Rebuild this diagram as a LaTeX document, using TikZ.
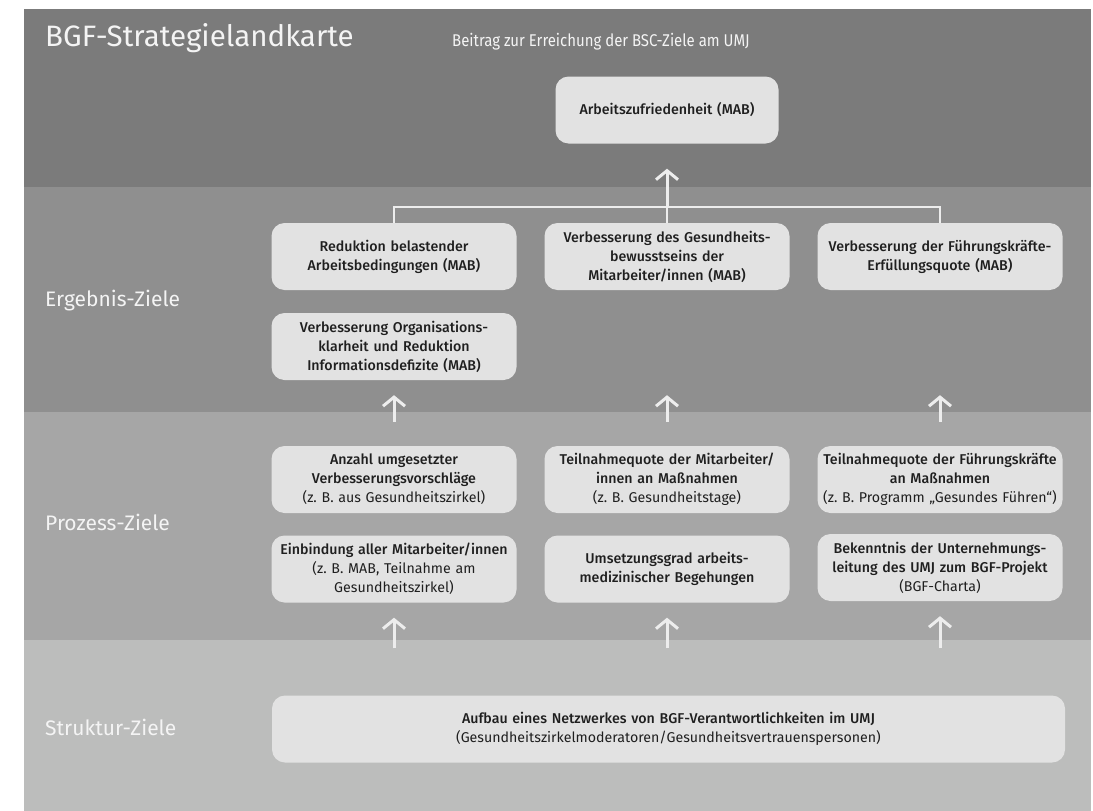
\documentclass[tikz,border=0pt]{standalone}
\usepackage{fontspec}
\setmainfont{Fira Sans}
\newfontfamily\medfont{Fira Sans Medium}
\newfontfamily\narrowfont[FakeStretch=0.88]{Fira Sans}
\usetikzlibrary{arrows.meta}

\definecolor{bandA}{HTML}{7B7B7B}
\definecolor{bandB}{HTML}{8F8F8F}
\definecolor{bandC}{HTML}{A6A6A6}
\definecolor{bandD}{HTML}{BCBDBC}
\definecolor{boxfill}{HTML}{E2E2E2}
\definecolor{linkcol}{HTML}{EDEDED}
\definecolor{labelcol}{HTML}{F4F4F4}

\newcommand\hint[1]{{\rmfamily #1}}
\frenchspacing

\tikzset{
  goal/.style={fill=boxfill, rounded corners=13pt, text width=250pt, align=center,
    inner xsep=-2.5pt, inner ysep=0pt, minimum height=67pt, text=black!88,
    font=\medfont\fontsize{14.2}{19}\selectfont},
  level/.style={anchor=base west, text=labelcol, inner sep=0pt,
    font=\fontsize{21}{24}\selectfont},
  link/.style={draw=linkcol, line width=2.5pt},
  uparr/.style={draw=linkcol, line width=3pt, -{Straight Barb[length=9pt,width=22pt]}}
}

\begin{document}
\begin{tikzpicture}[x=1pt,y=-1pt]
\useasboundingbox (0,0) rectangle (1093,811);

% bands
\fill[bandA] (24,9) rectangle (1091,187);
\fill[bandB] (24,187) rectangle (1091,412);
\fill[bandC] (24,412) rectangle (1091,640);
\fill[bandD] (24,640) rectangle (1091,811);

\node[anchor=base west, text=labelcol, inner sep=0pt, font=\fontsize{29.5}{32}\selectfont] (title) at (45,46) {BGF-Strategielandkarte};
\node[anchor=base west, text=labelcol, inner sep=0pt, font=\narrowfont\fontsize{17}{19}\selectfont] (sub) at (452,46) {Beitrag zur Erreichung der BSC-Ziele am UMJ};

\node[level] (erg) at (45,306) {Ergebnis-Ziele};
\node[level] (proz) at (45,530) {Prozess-Ziele};
\node[level] (strukt) at (45,735) {Struktur-Ziele};

\node[goal, text width=228pt] (zufr) at (667,110) {Arbeitszufriedenheit (MAB)};

\node[goal] (reduk) at (394,256.5) {Reduktion belastender\\Arbeitsbedingungen (MAB)};
\node[goal] (bewus) at (667,256.5) {Verbesserung des Gesundheits-\\bewusstseins der\\Mitarbeiter/innen (MAB)};
\node[goal] (fkq) at (940,256.5) {Verbesserung der Führungskräfte-\\Erfüllungsquote (MAB)};
\node[goal] (orga) at (394,346.5) {Verbesserung Organisations-\\klarheit und Reduktion\\Informationsdefizite (MAB)};

\node[goal] (vorschl) at (394,479.5) {Anzahl umgesetzter\\Verbesserungsvorschläge\\\hint{(z. B. aus Gesundheitszirkel)}};
\node[goal] (teilma) at (667,479.5) {Teilnahmequote der Mitarbeiter/\\innen an Maßnahmen\\\hint{(z. B. Gesundheitstage)}};
\node[goal] (teilfk) at (940,479.5) {Teilnahmequote der Führungskräfte\\an Maßnahmen\\\hint{(z. B. Programm „Gesundes Führen“)}};
\node[goal] (einb) at (394,569) {Einbindung aller Mitarbeiter/innen\\\hint{(z. B. MAB, Teilnahme am}\\\hint{Gesundheitszirkel)}};
\node[goal] (begeh) at (667,569) {Umsetzungsgrad arbeits-\\medizinischer Begehungen};
\node[goal] (bekennt) at (940,567.5) {Bekenntnis der Unternehmungs-\\leitung des UMJ zum BGF-Projekt\\\hint{(BGF-Charta)}};

\node[goal, text width=798pt] (netz) at (668.5,729) {Aufbau eines Netzwerkes von BGF-Verantwortlichkeiten im UMJ\\\hint{(Gesundheitszirkelmoderatoren/Gesundheitsvertrauenspersonen)}};

% tree to the top goal
\draw[link] (reduk.north) -- ++(0,-16) -| (fkq.north);
\draw[link] (bewus.north) -- ++(0,-16) coordinate (hub);
\draw[uparr, shorten >=25pt] (hub) -- (zufr.south);

% between the bands
\draw[uparr, shorten <=24pt, shorten >=15pt] (vorschl.north) -- (orga.south);
\draw[uparr, shorten <=24pt, shorten >=105pt] (teilma.north) -- (bewus.south);
\draw[uparr, shorten <=24pt, shorten >=105pt] (teilfk.north) -- (fkq.south);

\foreach \n in {einb,begeh,bekennt}
  \draw[uparr, shorten <=47pt, shorten >=15pt] (\n |- netz.north) -- (\n.south);

\end{tikzpicture}
\end{document}
